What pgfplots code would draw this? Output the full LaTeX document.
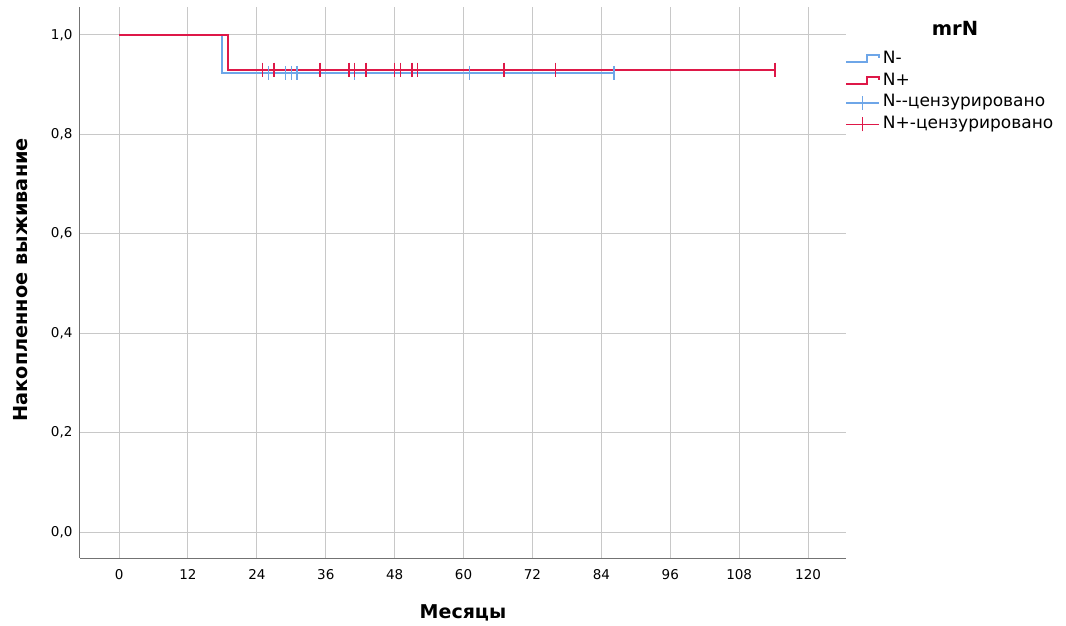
\documentclass[border=0pt]{standalone}
\usepackage{pgfplots}
\pgfplotsset{compat=1.18}
\usepackage{fontspec}
\setmainfont{DejaVu Sans}
\definecolor{nminus}{RGB}{110,166,232}
\definecolor{nplus}{RGB}{222,24,72}
\definecolor{gridc}{RGB}{200,200,200}
\pgfplotsset{
  stepleg/.style={legend image code/.code={\draw[##1] (0pt,-3pt) -- (21pt,-3pt) -- (21pt,4pt) -- (33pt,4pt) -- (33pt,1pt);}},
  censleg/.style={legend image code/.code={\draw[##1, line width=1.6pt] (0pt,0pt) -- (33pt,0pt); \draw[##1,line width=1.6pt] (16pt,-7pt) -- (16pt,7pt);}},
}
\begin{document}
\begin{tikzpicture}[x=1pt,y=1pt]
\path[use as bounding box] (0,0) rectangle (1066,625);
\begin{axis}[
  at={(80pt,67pt)}, anchor=south west,
  width=766pt, height=551pt, scale only axis,
  xmin=-6.8, xmax=126.6, ymin=-0.052, ymax=1.056,
  axis x line*=bottom, axis y line*=left,
  axis line style={draw=black!55, line width=1pt, -},
  xtick={0,12,...,120},
  ytick={0,0.2,0.4,0.6,0.8,1.0},
  yticklabels={{0,0},{0,2},{0,4},{0,6},{0,8},{1,0}},
  major tick length=0pt,
  grid=major,
  major grid style={draw=gridc, line width=1pt},
  /pgf/number format/assume math mode=true,
  x tick label style={font=\fontsize{13.5}{15}\selectfont, yshift=-8pt},
  y tick label style={font=\fontsize{13.5}{15}\selectfont, xshift=-4pt},
  xlabel={\bfseries Месяцы},
  ylabel={\bfseries Накопленное выживание},
  xlabel style={font=\fontsize{19}{21}\selectfont, at={(axis description cs:0.5,-0.1)}, anchor=center},
  ylabel style={font=\fontsize{19.3}{21}\selectfont, at={(axis description cs:-0.078,0.505)}, anchor=center, rotate=0},
  legend style={at={(axis description cs:0.999,0.925)}, anchor=north west, draw=none, fill=none,
    font=\fontsize{17}{19}\selectfont, row sep=0pt, inner sep=0pt,
    nodes={text height=12.5pt, text depth=4.2pt, inner sep=2.5pt}},
  legend cell align=left,
  clip=false,
]
\addplot[const plot, color=nminus, line width=2pt, mark=none, stepleg]
  coordinates {(0,1) (18,0.9235) (86,0.9235)};
\addlegendentry{N-}
\addplot[const plot, color=nplus, line width=2pt, mark=none, stepleg]
  coordinates {(0,1) (19,0.93) (114.3,0.93)};
\addlegendentry{N+}
\addplot[only marks, color=nminus, mark=|, mark size=7pt, mark options={line width=1.6pt}, censleg]
  coordinates {(26,0.9235) (29,0.9235) (30,0.9235) (31,0.9235) (41,0.9235) (61,0.9235) (86.2,0.9235)};
\addlegendentry{N{-}{-}цензурировано}
\addplot[only marks, color=nplus, mark=|, mark size=7pt, mark options={line width=1.6pt}, censleg]
  coordinates {(25,0.93) (27,0.93) (35,0.93) (40,0.93) (41,0.93) (43,0.93) (48,0.93) (49,0.93) (51,0.93) (52,0.93) (67,0.93) (76,0.93) (114.2,0.93)};
\addlegendentry{N+{-}цензурировано}
\end{axis}
\node[font=\bfseries\fontsize{19.5}{21}\selectfont] at (955pt,597pt) {mrN};
\end{tikzpicture}
\end{document}
